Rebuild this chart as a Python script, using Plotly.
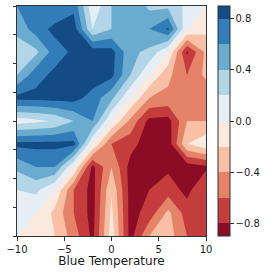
import plotly.graph_objects as go

# grid coordinates
x_vals = [-10, -8, -6, -4, -2, 0, 2, 4, 6, 8, 10]
y_vals = [-10, -8, -6, -4, -2, 0, 2, 4, 6, 8, 10]

# z values, one row per y (x from -10 to 10)
z_ym10 = [0.0, -0.1, -0.2, -0.5, -0.85, -0.1, -0.88, -0.4, -0.3, -0.6, -0.6]
z_ym8 = [0.1, 0.0, -0.25, -0.6, -0.88, -0.15, -0.88, -0.72, -0.35, -0.7, -0.65]
z_ym6 = [0.2, 0.25, 0.0, -0.6, -0.88, -0.22, -0.88, -0.8, -0.7, -0.86, -0.6]
z_ym4 = [0.45, 0.6, 0.6, 0.0, -0.86, -0.4, -0.88, -0.92, -0.84, -0.92, -0.84]
z_ym2 = [0.86, 0.86, 0.86, 0.86, 0.0, -0.6, -0.72, -0.92, -0.92, -0.2, -0.05]
z_y0 = [0.1, 0.15, 0.22, 0.4, 0.6, 0.0, -0.45, -0.86, -0.88, -0.4, -0.4]
z_y2 = [0.86, 0.86, 0.88, 0.88, 0.72, 0.45, 0.0, -0.4, -0.45, -0.6, -0.6]
z_y4 = [0.4, 0.72, 0.85, 0.92, 0.92, 0.86, 0.4, 0.0, -0.35, -0.6, -0.35]
z_y6 = [0.3, 0.35, 0.7, 0.84, 0.92, 0.88, 0.45, 0.35, 0.0, -0.83, -0.35]
z_y8 = [0.45, 0.7, 0.86, 0.9, 0.2, 0.4, 0.6, 0.6, 0.83, 0.0, -0.15]
z_y10 = [0.6, 0.65, 0.6, 0.75, 0.05, 0.4, 0.6, 0.35, 0.35, 0.15, 0.0]

z_rows = [z_ym10, z_ym8, z_ym6, z_ym4, z_ym2, z_y0, z_y2, z_y4, z_y6, z_y8, z_y10]

# RdBu band colours (low -> high)
band_colors = ['#8c0c25', '#c43c3c', '#e58368', '#f9c0a5', '#fae9df',
               '#e4eef4', '#b2d5e7', '#6aacd0', '#327cb7', '#134b86']
colorscale = [[i / (len(band_colors) - 1), c] for i, c in enumerate(band_colors)]

cbar_ticks = [-0.8, -0.4, 0.0, 0.4, 0.8]
x_ticks = [-10, -5, 0, 5, 10]
y_ticks = [-10, -7.5, -5, -2.5, 0, 2.5, 5, 7.5, 10]

axis_col = '#333333'
text_col = '#1a1a1a'

fig = go.Figure(go.Contour(
    x=x_vals, y=y_vals, z=z_rows,
    autocontour=False,
    contours=dict(start=-0.8, end=0.8, size=0.2, coloring='fill', showlines=False),
    line=dict(width=0, smoothing=0),
    colorscale=colorscale,
    colorbar=dict(
        thickness=12, len=1, lenmode='fraction', x=1.063, xanchor='left',
        xpad=0, ypad=0, y=0.5, yanchor='middle',
        outlinecolor=axis_col, outlinewidth=1,
        tickvals=cbar_ticks, tickformat='.1f',
        ticks='outside', ticklen=3.5, tickcolor=axis_col, tickwidth=1,
        tickfont=dict(family='DejaVu Sans', size=10, color=text_col),
    ),
))

fig.update_layout(
    width=273, height=273,
    margin=dict(l=17, r=67, t=6, b=37),
    paper_bgcolor='white', plot_bgcolor='white',
    font=dict(family='DejaVu Sans', color=text_col),
)
fig.update_xaxes(
    range=[-10, 10], tickvals=x_ticks, tickformat='d',
    ticks='outside', ticklen=3.5, tickcolor=axis_col, tickwidth=1,
    showline=True, linecolor=axis_col, linewidth=1, mirror=True,
    showgrid=False, zeroline=False,
    tickfont=dict(family='DejaVu Sans', size=10, color=text_col),
    title=dict(text='Blue Temperature', font=dict(family='DejaVu Sans', size=12, color=text_col), standoff=1),
)
fig.update_yaxes(
    range=[-10, 10], tickvals=y_ticks, showticklabels=False,
    ticks='outside', ticklen=3.5, tickcolor=axis_col, tickwidth=1,
    showline=True, linecolor=axis_col, linewidth=1, mirror=True,
    showgrid=False, zeroline=False,
)

fig.write_html("out.html", config={"displayModeBar": False},
               post_script="document.body.style.margin='0';")
